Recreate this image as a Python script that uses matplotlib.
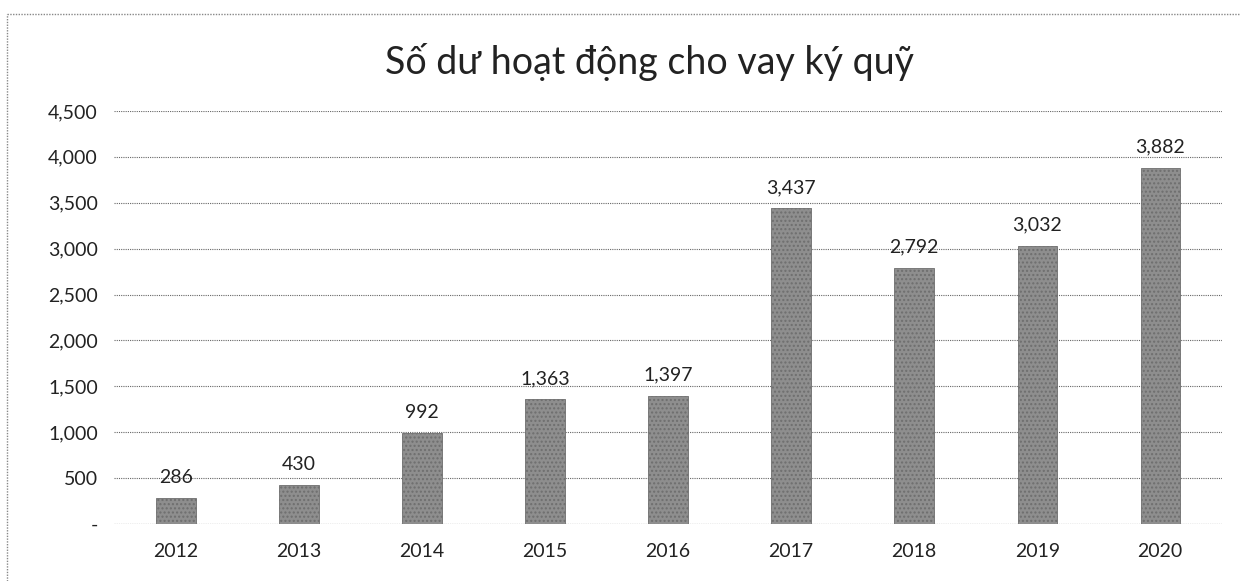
import matplotlib
matplotlib.use("Agg")
import matplotlib.pyplot as plt
from matplotlib.ticker import FuncFormatter

years = ["2012", "2013", "2014", "2015", "2016", "2017", "2018", "2019", "2020"]
values = [286, 430, 992, 1363, 1397, 3437, 2792, 3032, 3882]
yticks = [0, 500, 1000, 1500, 2000, 2500, 3000, 3500, 4000, 4500]
title = "Số dư hoạt động cho vay ký quỹ"

plt.rcParams['font.family'] = ['Lato', 'DejaVu Sans']

fig = plt.figure(figsize=(12.4, 5.81), dpi=100)
ax = fig.add_axes([0.0923, 0.0981, 0.893, 0.711])

x = list(range(len(years)))
ax.bar(x, values, width=0.32, color='#8e8e8e', edgecolor='#6e6e6e', linewidth=0.6,
       hatch='....', zorder=3)
for xi, v in zip(x, values):
    ax.text(xi, v + 130, f"{v:,}", ha='center', va='bottom', fontsize=14, color='#222222')

ax.set_xlim(-0.5, len(years) - 0.5)
ax.set_ylim(0, 4500)
ax.set_yticks(yticks)
ax.yaxis.set_major_formatter(FuncFormatter(lambda v, p: "-" if v == 0 else f"{int(v):,}"))
ax.set_xticks(x)
ax.set_xticklabels(years)
ax.tick_params(axis='both', length=0, labelsize=14, colors='#222222')
ax.tick_params(axis='x', pad=14)
ax.tick_params(axis='y', pad=12)
ax.grid(axis='y', color='#666666', linestyle=(0, (1, 1)), linewidth=0.8, zorder=0)
for s in ax.spines.values():
    s.set_visible(False)
ax.axhline(0, color='#666666', linestyle=(0, (1, 1)), linewidth=0.8, zorder=2)

fig.text(0.524, 0.893, title, ha='center', va='center', fontsize=27, color='#222222')

# scanned frame edges
fig.add_artist(plt.Line2D([0.006, 1.0], [0.976, 0.976], transform=fig.transFigure,
                          color='#888888', linestyle=(0, (1, 1)), linewidth=1))
fig.add_artist(plt.Line2D([0.006, 0.006], [0.0, 0.976], transform=fig.transFigure,
                          color='#888888', linestyle=(0, (1, 1)), linewidth=1))

fig.savefig("out.png", dpi=100)
